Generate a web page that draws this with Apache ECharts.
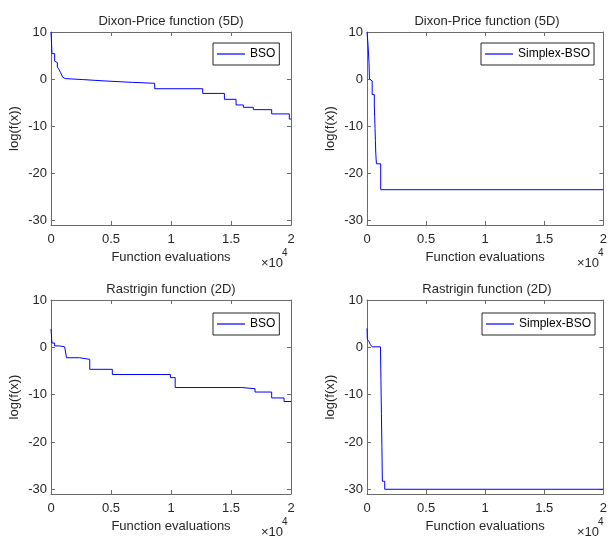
<!DOCTYPE html>
<html>
<head>
<meta charset="utf-8">
<script src="https://cdn.jsdelivr.net/npm/echarts@6/dist/echarts.min.js"></script>
<style>
  html, body { margin: 0; padding: 0; background: #fff; }
  #main { width: 610px; height: 537px; }
</style>
</head>
<body>
<div id="main"></div>
<script>

// Dixon-Price (5D), BSO: evaluation where the best value changes, and log value
var dpBsoEvals = [0, 83, 305, 360, 530, 667, 720, 805, 860, 970, 1030, 1190, 2600, 4500, 6800, 8640, 12640, 14450, 15420, 16030, 16860, 18390, 19860, 20000]
var dpBsoLog = [10, 5.4, 3.8, 3.5, 2.55, 2.05, 1.7, 1.35, 1.0, 0.4, 0.1, -0.1, -0.4, -0.7, -0.9, -2.05, -3.05, -4.3, -5.5, -6.0, -6.5, -7.4, -8.5, -8.5]

// Dixon-Price (5D), Simplex-BSO
var dpSimEvals = [0, 90, 170, 210, 300, 440, 620, 650, 680, 710, 740, 770, 800, 1160, 20000]
var dpSimLog = [10, 7.2, 3.4, 0, -0.4, -3.3, -5.5, -8, -10.5, -13, -15.5, -17, -18, -23.5, -23.5]

// Rastrigin (2D), BSO
var raBsoEvals = [0, 80, 300, 700, 1140, 1290, 2380, 3230, 5110, 9950, 10350, 15890, 17000, 18390, 19420, 20000]
var raBsoLog = [3.9, 0.9, 0.3, 0.1, -0.3, -2.2, -2.55, -4.65, -5.75, -6.4, -8.5, -8.75, -9.45, -10.7, -11.45, -11.45]

// Rastrigin (2D), Simplex-BSO
var raSimEvals = [0, 30, 170, 280, 440, 1140, 1180, 1220, 1260, 1300, 1500, 20000]
var raSimLog = [4.0, 1.7, 1.2, 0.6, 0.1, -0.2, -7, -14, -21, -28.3, -30.0, -30.0]

var panelTitles = ['Dixon-Price function (5D)', 'Dixon-Price function (5D)', 'Rastrigin function (2D)', 'Rastrigin function (2D)']
var seriesNames = ['BSO', 'Simplex-BSO', 'BSO', 'Simplex-BSO']
var yTicks = [-30, -20, -10, 0, 10]
var xTickLabels = {0: '0', 5000: '0.5', 10000: '1', 15000: '1.5', 20000: '2'}

var panelEvals = [dpBsoEvals, dpSimEvals, raBsoEvals, raSimEvals]
var panelLogs = [dpBsoLog, dpSimLog, raBsoLog, raSimLog]

var myChart = echarts.init(document.getElementById('main'))

var FONT = 'Liberation Sans, Arial, Helvetica, sans-serif'
var INK = '#262626'
var AXIS = '#6b6b6b'

// panel boxes (left, top) on the page
var boxes = [
    {left: 51, top: 32, w: 240, h: 193},
    {left: 367, top: 32, w: 240, h: 193},
    {left: 51, top: 300, w: 240, h: 194},
    {left: 367, top: 300, w: 240, h: 194}
]
var legendPos = [[213, 43], [481, 43], [213, 313], [482, 313]]

var grids = [], xAxes = [], yAxes = [], titles = [], legends = [], series = [], texts = []

for (var i = 0; i < 4; i++) {
    var b = boxes[i]
    grids.push({left: b.left, top: b.top, width: b.w, height: b.h, show: false, containLabel: false})

    // bottom x axis with labels
    xAxes.push({
        type: 'value', gridIndex: i, position: 'bottom', min: 0, max: 20000, interval: 5000,
        name: 'Function evaluations', nameLocation: 'middle', nameGap: 26,
        nameTextStyle: {fontFamily: FONT, fontSize: 13, color: INK},
        axisLine: {show: true, onZero: false, lineStyle: {color: AXIS, width: 1}},
        axisTick: {show: true, inside: true, length: 4, lineStyle: {color: AXIS}},
        axisLabel: {
            margin: 8, fontFamily: FONT, fontSize: 13, color: INK,
            formatter: function (v) { return xTickLabels[v] }
        },
        splitLine: {show: false}
    })
    // top x axis, ticks only (box)
    xAxes.push({
        type: 'value', gridIndex: i, position: 'top', min: 0, max: 20000, interval: 5000,
        axisLine: {show: true, onZero: false, lineStyle: {color: AXIS, width: 1}},
        axisTick: {show: true, inside: true, length: 4, lineStyle: {color: AXIS}},
        axisLabel: {show: false},
        splitLine: {show: false}
    })

    yAxes.push({
        type: 'value', gridIndex: i, position: 'left', min: -31, max: 10,
        name: 'log(f(x))', nameLocation: 'middle', nameGap: 30,
        nameTextStyle: {fontFamily: FONT, fontSize: 13, color: INK},
        axisLine: {show: true, onZero: false, lineStyle: {color: AXIS, width: 1}},
        axisTick: {show: true, inside: true, length: 4, customValues: yTicks, lineStyle: {color: AXIS}},
        axisLabel: {margin: 4, fontFamily: FONT, fontSize: 13, color: INK, customValues: yTicks},
        splitLine: {show: false}
    })
    yAxes.push({
        type: 'value', gridIndex: i, position: 'right', min: -31, max: 10,
        axisLine: {show: true, onZero: false, lineStyle: {color: AXIS, width: 1}},
        axisTick: {show: true, inside: true, length: 4, customValues: yTicks, lineStyle: {color: AXIS}},
        axisLabel: {show: false, customValues: yTicks},
        splitLine: {show: false}
    })

    titles.push({
        text: panelTitles[i],
        left: b.left + b.w / 2, top: b.top - 17, textAlign: 'center', padding: 0,
        textStyle: {fontFamily: FONT, fontSize: 13, fontWeight: 'normal', color: INK}
    })

    legends.push({
        data: [{name: seriesNames[i], icon: 'rect'}],
        left: legendPos[i][0], top: legendPos[i][1],
        orient: 'vertical',
        padding: [4, 4, 4, 4],
        itemWidth: 28, itemHeight: 1.2,
        borderColor: INK, borderWidth: 1, backgroundColor: '#fff',
        selectedMode: false,
        textStyle: {fontFamily: FONT, fontSize: 12, color: '#000', lineHeight: 14}
    })

    var pts = panelEvals[i].map(function (e, k) { return [e, panelLogs[i][k]] })
    series.push({
        name: seriesNames[i],
        type: 'line',
        step: 'end',
        xAxisIndex: 2 * i, yAxisIndex: 2 * i,
        data: pts,
        symbol: 'none',
        clip: true,
        lineStyle: {color: '#0000ff', width: 1},
        itemStyle: {color: '#0000ff'}
    })

    // x10^4 exponent marker
    texts.push({
        type: 'text', left: b.left + b.w - 30, top: b.top + b.h + 32,
        style: {text: '\u00d710', fontFamily: FONT, fontSize: 13, fill: INK}
    })
    texts.push({
        type: 'text', left: b.left + b.w - 9, top: b.top + b.h + 23,
        style: {text: '4', fontFamily: FONT, fontSize: 10, fill: INK}
    })
}

option = {
    animation: false,
    backgroundColor: '#fff',
    title: titles,
    legend: legends,
    grid: grids,
    xAxis: xAxes,
    yAxis: yAxes,
    series: series,
    graphic: texts
}

myChart.setOption(option)

</script>
</body>
</html>
